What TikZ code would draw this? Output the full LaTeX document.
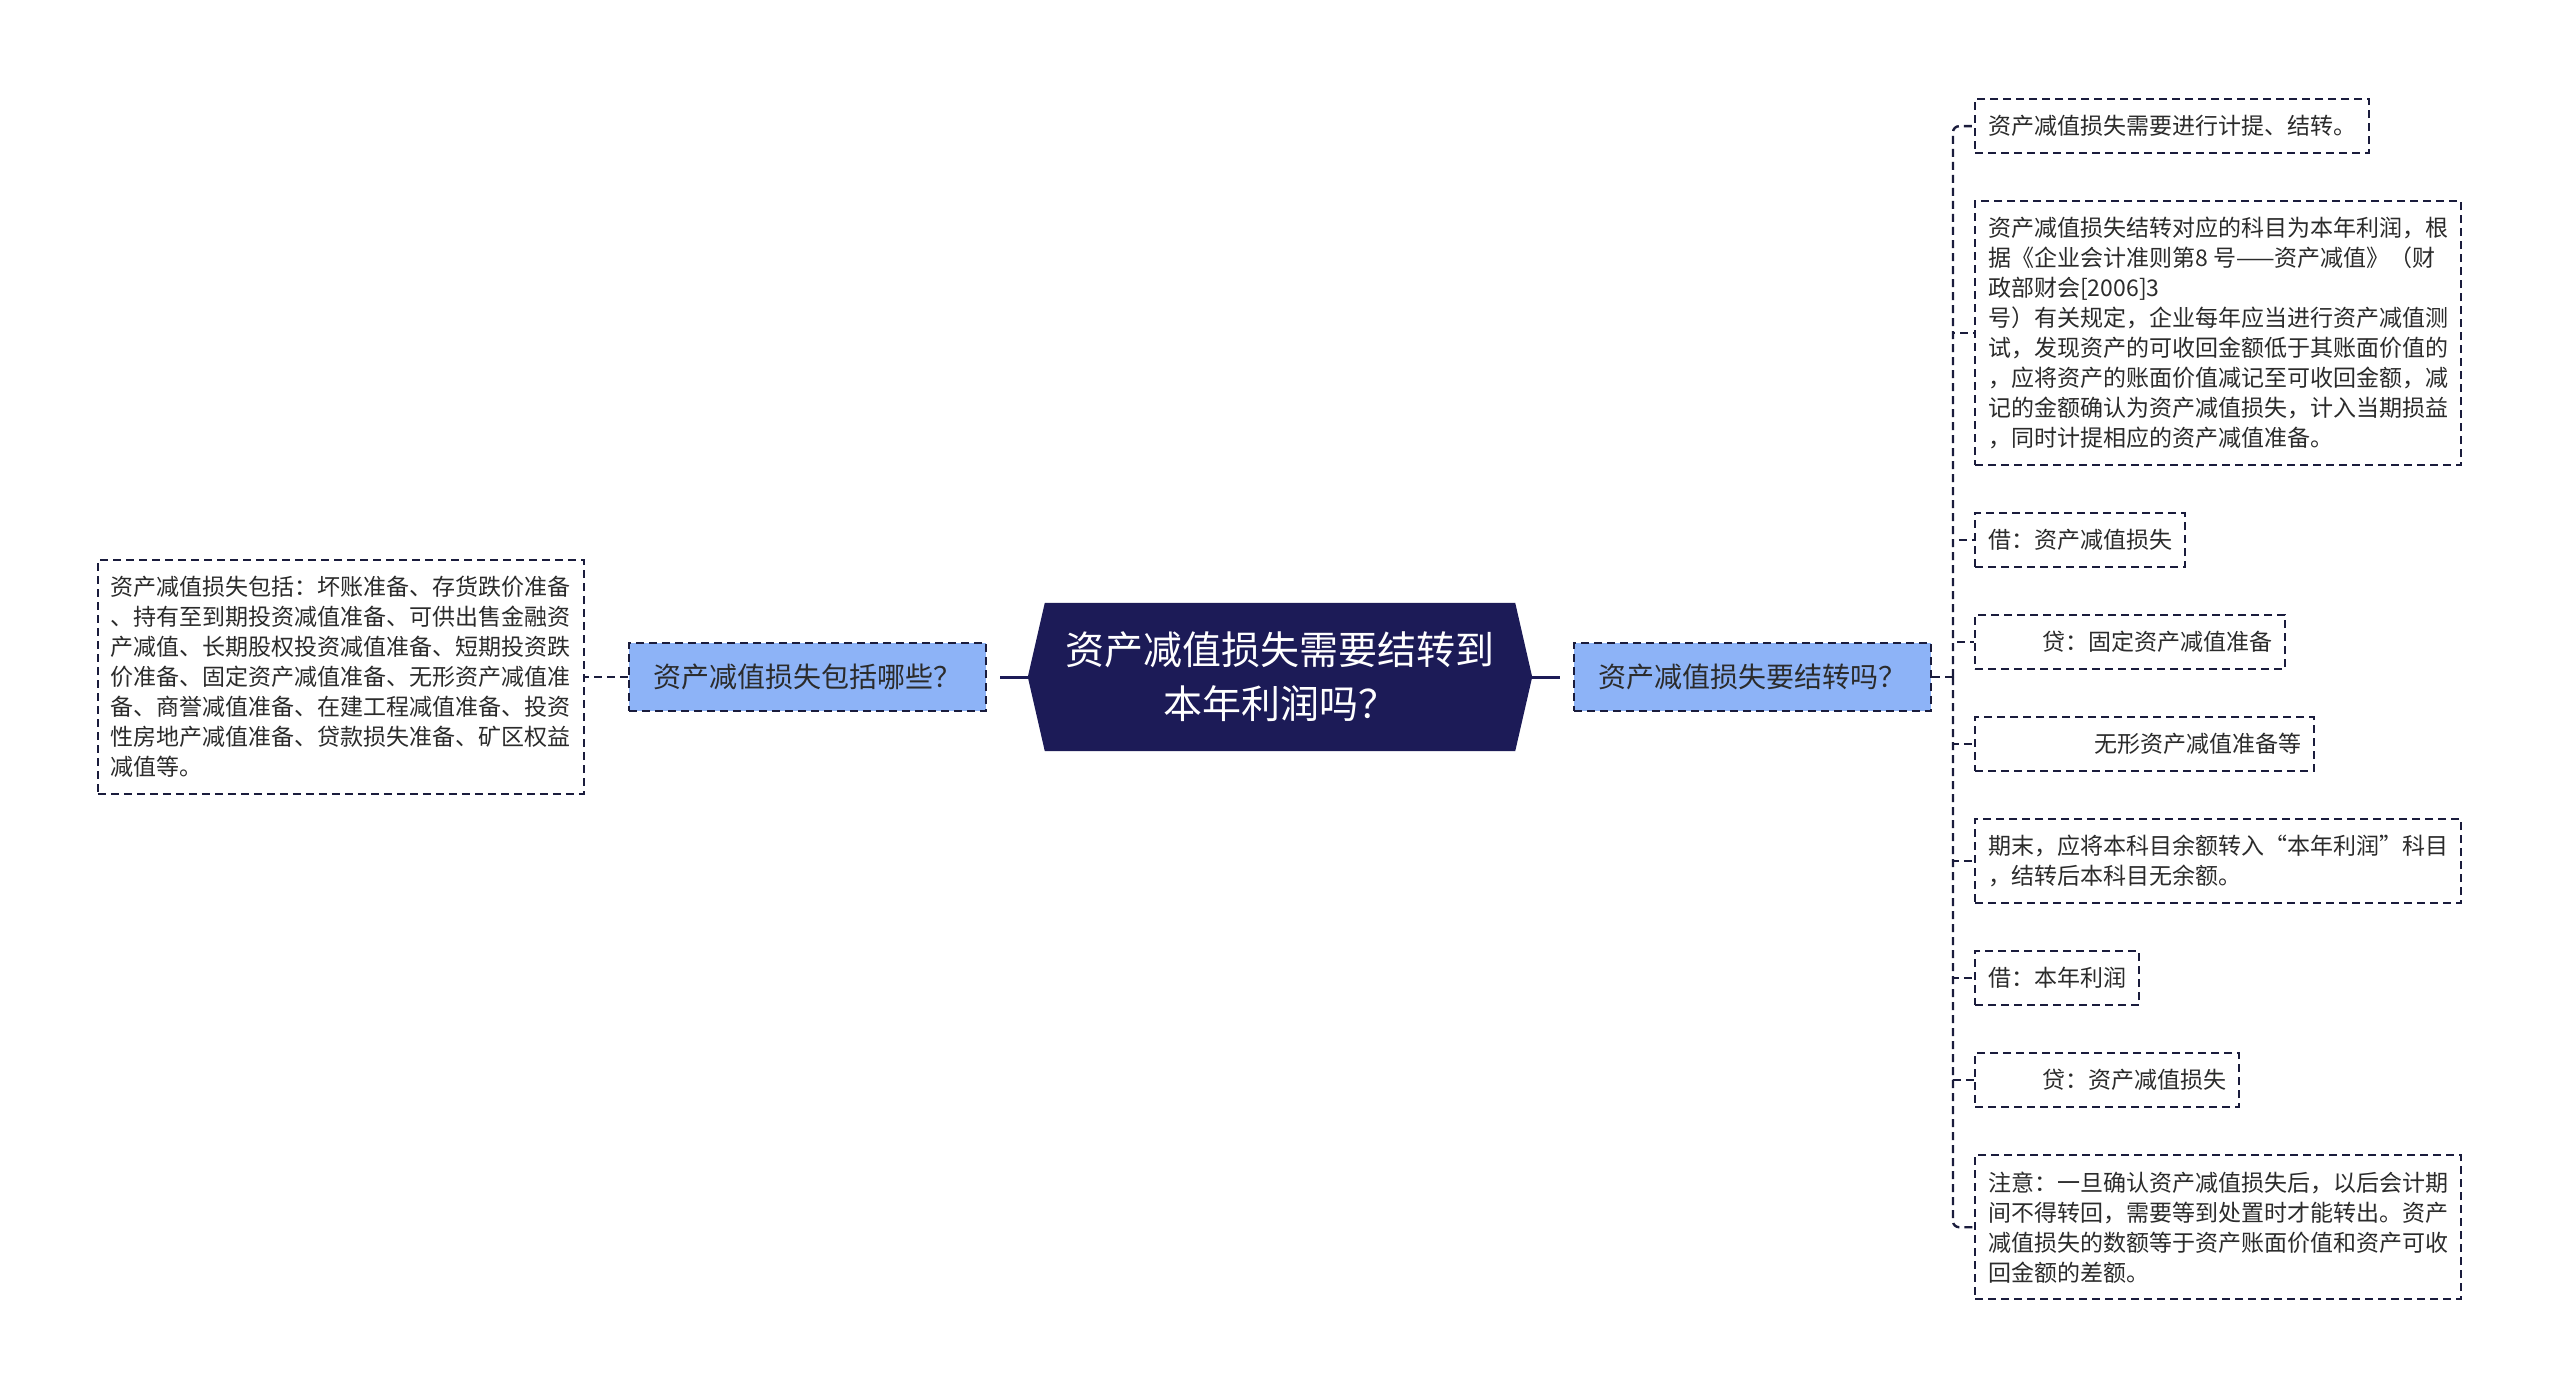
\documentclass[tikz,border=0pt]{standalone}
\usepackage{fontspec}
\setmainfont{Noto Sans CJK SC}
\usetikzlibrary{backgrounds}
\definecolor{navy}{HTML}{1C1B57}
\definecolor{edge}{HTML}{1A1C3C}
\definecolor{qblue}{HTML}{8DB3F7}
\definecolor{ink}{HTML}{2B2B2B}
\tikzset{
  root/.style={minimum width=470pt, minimum height=148pt, inner sep=0pt, align=center,
    text=white, font=\fontsize{39pt}{54pt}\selectfont},
  question/.style={draw=edge, fill=qblue, line width=2.4pt, dash pattern=on 8pt off 5pt,
    minimum width=357pt, minimum height=68pt, inner sep=0pt, text=ink,
    font=\fontsize{28pt}{34pt}\selectfont},
  leaf/.style={draw=edge, line width=2.4pt, dash pattern=on 8pt off 5pt, inner xsep=13pt,
    inner ysep=4pt, align=left, text=ink, font=\fontsize{23pt}{30pt}\selectfont,
    minimum height=#1*30pt+24pt},
  leaf/.default=1,
  link/.style={draw=edge, line width=2.4pt, dash pattern=on 8pt off 5pt},
  spine/.style={draw=navy, line width=3pt}
}
\begin{document}
\begin{tikzpicture}[x=1pt, y=-1pt]
\useasboundingbox (0,0) rectangle (2560,1399);
% centre
\node[root] (root) at (1280,677) {资产减值损失需要结转到\\本年利润吗？};
\coordinate (tipL) at ([xshift=-17pt]root.west);
\coordinate (tipR) at ([xshift=17pt]root.east);
\begin{pgfonlayer}{background}
  \fill[white] (0,0) rectangle (2560,1399);
  \fill[navy] (root.north west) -- (root.north east) -- (tipR) -- (root.south east)
    -- (root.south west) -- (tipL) -- cycle;
\end{pgfonlayer}
% left branch
\node[question] (qL) at (807.5,677) {资产减值损失包括哪些？};
\node[leaf=7, anchor=east] (leafL) at (585,677) {资产减值损失包括：坏账准备、存货跌价准备\\
、持有至到期投资减值准备、可供出售金融资\\
产减值、长期股权投资减值准备、短期投资跌\\
价准备、固定资产减值准备、无形资产减值准\\
备、商誉减值准备、在建工程减值准备、投资\\
性房地产减值准备、贷款损失准备、矿区权益\\
减值等。};
\draw[spine, shorten >=13pt] (tipL) -- (qL.east);
\draw[link] (qL.west) -- (leafL.east);
% right branch
\node[question] (qR) at (1752.5,677) {资产减值损失要结转吗？};
\coordinate (hub) at (1953,677);
\node[leaf, anchor=north west] (r1) at (1974,98) {资产减值损失需要进行计提、结转。};
\node[leaf=8, anchor=north west] (r2) at (1974,200) {资产减值损失结转对应的科目为本年利润，根\\
据《企业会计准则第8 号——资产减值》（财\\
政部财会[2006]3\\
号）有关规定，企业每年应当进行资产减值测\\
试，发现资产的可收回金额低于其账面价值的\\
，应将资产的账面价值减记至可收回金额，减\\
记的金额确认为资产减值损失，计入当期损益\\
，同时计提相应的资产减值准备。};
\node[leaf, anchor=north west] (r3) at (1974,512) {借：资产减值损失};
\node[leaf, anchor=north west] (r4) at (1974,614) {\hspace*{54pt}贷：固定资产减值准备};
\node[leaf, anchor=north west] (r5) at (1974,716) {\hspace*{106pt}无形资产减值准备等};
\node[leaf=2, anchor=north west] (r6) at (1974,818) {期末，应将本科目余额转入“本年利润”科目\\
，结转后本科目无余额。};
\node[leaf, anchor=north west] (r7) at (1974,950) {借：本年利润};
\node[leaf, anchor=north west] (r8) at (1974,1052) {\hspace*{54pt}贷：资产减值损失};
\node[leaf=4, anchor=north west] (r9) at (1974,1154) {注意：一旦确认资产减值损失后，以后会计期\\
间不得转回，需要等到处置时才能转出。资产\\
减值损失的数额等于资产账面价值和资产可收\\
回金额的差额。};
\draw[spine, shorten >=13pt] (tipR) -- (qR.west);
\draw[link] (qR.east) -- (hub);
\draw[link, rounded corners=6pt] (hub) |- (r1.west);
\draw[link] (hub) |- (r2.west);
\draw[link] (hub) |- (r3.west);
\draw[link] (hub) |- (r4.west);
\draw[link] (hub) |- (r5.west);
\draw[link] (hub) |- (r6.west);
\draw[link] (hub) |- (r7.west);
\draw[link] (hub) |- (r8.west);
\draw[link, rounded corners=6pt] (hub) |- (r9.west);
\end{tikzpicture}
\end{document}
